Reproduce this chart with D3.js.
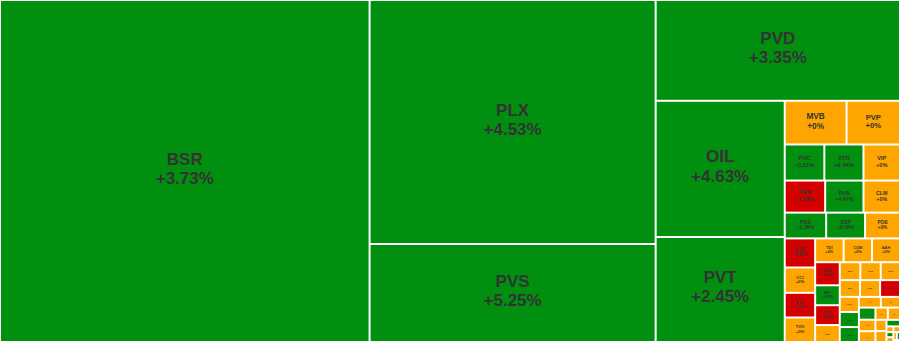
<!DOCTYPE html>
<html>
<head>
<meta charset="utf-8">
<script src="https://cdn.jsdelivr.net/npm/d3@7"></script>
<style>
  html, body { margin: 0; padding: 0; background: #fff; }
  svg { display: block; }
  text { font-family: "Liberation Sans", Arial, sans-serif; font-weight: bold; fill: #333; }
</style>
</head>
<body>
<div id="chart"></div>
<script>
const WIDTH = 900
const HEIGHT = 342

// named tickers (weight ~ traded value, change in %)
const tickers = ["BSR", "PLX", "PVS", "PVD", "OIL", "PVT",
  "MVB", "PVP", "PVC", "VTO", "VIP", "TMB", "PVB", "CLM", "POS", "GSP", "POB",
  "CST", "CCI", "STV", "TVO", "TDI", "COM", "AAH", "HUG", "NBC", "PPY", ""]
const weights = [126369, 69784, 28028, 24621, 17583, 13545,
  2703, 2333, 1429, 1411, 1318, 1296, 1229, 1171, 1067, 1002, 900,
  885, 770, 750, 745, 678, 676, 666, 568, 490, 488, 417]
const changes = [3.73, 4.53, 5.25, 3.35, 4.63, 2.45,
  0, 0, 5.31, 0.44, 0, -2.18, 4.47, 0, 1.36, 0.48, 0,
  -1.33, 0, -2.7, 0, 0, 0, 0, -2.09, 2.02, -0.98, 0]

// tiny unlabeled cells in the bottom right corner
const tailWeights = [369, 365, 345, 340, 336, 334, 290, 288, 286, 235, 205,
  200, 190, 179, 152, 149, 123, 121, 88, 40, 38, 35, 33, 28, 25, 13]
const tailChanges = [0, 0, 0, 0, 0, -1.2, 0, 1.1, 0.8, 0, 0,
  1.4, 0, 0, 0, 0, 0, 0, 0.9, 0, 0, 1.3, 0, 0, 0.6, 0]

// how many cells go in each strip of the layout
const stripSizes = [1, 2, 1, 2, 2, 3, 3, 3, 4, 3, 4, 3, 3, 3, 2, 3, 2, 2, 1, 2, 2, 2, 1]

const colors = { up: "#018f0f", flat: "#ffa500", down: "#d40000" }

const items = tickers.map((t, i) => ({ name: t, value: weights[i], change: changes[i] }))
  .concat(tailWeights.map((w, i) => ({ name: "", value: w, change: tailChanges[i] })))

// strips laid along the shorter side, like squarify, but with fixed strip sizes
function stripTile(parent, x0, y0, x1, y1) {
  const nodes = parent.children
  let rest = parent.value, i = 0
  for (const k of stripSizes) {
    if (i >= nodes.length) break
    const row = { children: nodes.slice(i, i + k) }
    row.value = d3.sum(row.children, d => d.value)
    const dx = x1 - x0, dy = y1 - y0
    if (dx < dy) {
      const y = y0 + dy * row.value / rest
      d3.treemapDice(row, x0, y0, x1, y)
      y0 = y
    } else {
      const x = x0 + dx * row.value / rest
      d3.treemapSlice(row, x0, y0, x, y1)
      x0 = x
    }
    rest -= row.value
    i += k
  }
}

const root = d3.hierarchy({ children: items }).sum(d => d.value || 0)

d3.treemap()
  .size([WIDTH, HEIGHT])
  .tile(stripTile)
  .paddingInner(2)
  .paddingOuter(1)(root)

const svg = d3.select("#chart").append("svg")
  .attr("width", WIDTH)
  .attr("height", HEIGHT)

svg.append("rect").attr("width", WIDTH).attr("height", HEIGHT).attr("fill", "#fff")

const fmt = v => (v >= 0 ? "+" : "") + (+v.toFixed(2)) + "%"

const cells = svg.selectAll("g.cell")
  .data(root.leaves())
  .join("g")
  .attr("class", "cell")
  .attr("transform", d => `translate(${d.x0},${d.y0})`)

cells.append("rect")
  .attr("width", d => d.x1 - d.x0)
  .attr("height", d => d.y1 - d.y0)
  .attr("fill", d => d.data.change > 0 ? colors.up : d.data.change < 0 ? colors.down : colors.flat)

cells.each(function(d) {
  const w = d.x1 - d.x0, h = d.y1 - d.y0
  const g = d3.select(this)
  if (w >= 21 && h >= 17 && d.data.name) {
    const fs = Math.min(17, Math.sqrt(w * h) * 0.165)
    g.append("text")
      .attr("text-anchor", "middle")
      .attr("font-size", fs)
      .attr("x", w / 2).attr("y", h / 2 - 0.38 * fs)
      .text(d.data.name)
    g.append("text")
      .attr("text-anchor", "middle")
      .attr("font-size", fs)
      .attr("x", w / 2).attr("y", h / 2 + 0.76 * fs)
      .text(fmt(d.data.change))
  } else if (w >= 10 && h >= 8) {
    g.append("text")
      .attr("text-anchor", "middle")
      .attr("font-size", Math.min(6, h * 0.4))
      .attr("x", w / 2)
      .attr("y", h / 2 + 1)
      .text("...")
  }
})
</script>
</body>
</html>
